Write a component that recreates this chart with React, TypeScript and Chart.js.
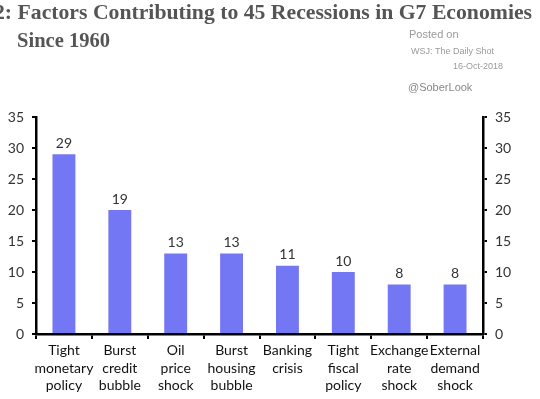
import React, { useEffect, useRef } from "react";
import { Chart, registerables } from "chart.js";

Chart.register(...registerables);

const categories: string[][] = [
  ["Tight", "monetary", "policy"],
  ["Burst", "credit", "bubble"],
  ["Oil", "price", "shock"],
  ["Burst", "housing", "bubble"],
  ["Banking", "crisis"],
  ["Tight", "fiscal", "policy"],
  ["Exchange", "rate", "shock"],
  ["External", "demand", "shock"],
];
const barValues: number[] = [29, 20, 13, 13, 11, 10, 8, 8];
const valueLabels: string[] = ["29", "19", "13", "13", "11", "10", "8", "8"];
const titleLine1 = "2: Factors Contributing to 45 Recessions in G7 Economies";
const titleLine2 = "Since 1960";
const yMin = 0;
const yMax = 35;
const yStep = 5;

const BAR_COLOR = "#7377F4";
const TEXT_COLOR = "#333333";
const SANS = "Lato, 'Open Sans', sans-serif";

const overlayPlugin = {
  id: "overlay",
  afterDraw(chart: any) {
    const ctx = chart.ctx;
    ctx.save();
    // value labels
    const meta = chart.getDatasetMeta(0);
    ctx.font = `14px ${SANS}`;
    ctx.fillStyle = TEXT_COLOR;
    ctx.textAlign = "center";
    ctx.textBaseline = "bottom";
    meta.data.forEach((bar: any, i: number) => {
      ctx.fillText(valueLabels[i], bar.x, bar.y - 4);
    });
    // title
    ctx.fillStyle = "#555555";
    ctx.font = "bold 21px 'Liberation Serif', 'DejaVu Serif', serif";
    ctx.textBaseline = "alphabetic";
    ctx.textAlign = "left";
    const w = ctx.measureText(titleLine1).width;
    const targetLeft = -6;
    const targetRight = 532;
    const sx = (targetRight - targetLeft) / w;
    ctx.save();
    ctx.translate(targetLeft, 19);
    ctx.scale(sx, 1);
    ctx.fillText(titleLine1, 0, 0);
    ctx.restore();
    const w2 = ctx.measureText(titleLine2).width;
    ctx.save();
    ctx.translate(17, 47);
    ctx.scale(93 / w2, 1);
    ctx.fillText(titleLine2, 0, 0);
    ctx.restore();
    // watermark
    ctx.textBaseline = "middle";
    ctx.fillStyle = "#9a9a9a";
    ctx.font = "11px 'Liberation Sans', Arial, sans-serif";
    ctx.fillText("Posted on", 409, 35);
    ctx.font = "9px 'Liberation Sans', Arial, sans-serif";
    ctx.fillText("WSJ: The Daily Shot", 411, 52);
    ctx.fillText("16-Oct-2018", 453, 67);
    ctx.fillStyle = "#888888";
    ctx.font = "11px 'Liberation Sans', Arial, sans-serif";
    ctx.fillText("@SoberLook", 408, 88);
    ctx.restore();
  },
};

export default function App() {
  const canvasRef = useRef<HTMLCanvasElement | null>(null);

  useEffect(() => {
    document.body.style.margin = "0";
    const canvas = canvasRef.current;
    if (!canvas) return;
    const chart = new Chart(canvas, {
      type: "bar",
      data: {
        labels: categories,
        datasets: [
          {
            data: barValues,
            backgroundColor: BAR_COLOR,
            borderWidth: 0,
            categoryPercentage: 1,
            barPercentage: 0.41,
            yAxisID: "y",
          },
        ],
      },
      options: {
        animation: false,
        responsive: false,
        maintainAspectRatio: false,
        layout: { padding: { top: 117, left: 0, right: 0, bottom: 0 } },
        plugins: {
          legend: { display: false },
          title: { display: false },
          tooltip: { enabled: false },
        },
        scales: {
          x: {
            offset: true,
            grid: {
              display: true,
              offset: true,
              drawOnChartArea: false,
              drawTicks: true,
              tickLength: 5,
              color: "#000",
              lineWidth: 2,
            },
            border: { display: true, color: "#000", width: 2.5 },
            ticks: {
              color: "#111",
              font: { family: SANS, size: 14, lineHeight: 1.25 },
              padding: 3,
              maxRotation: 0,
              autoSkip: false,
            },
            afterFit: (scale: any) => {
              scale.height = 65;
            },
          },
          y: {
            position: "left",
            min: yMin,
            max: yMax,
            grid: {
              display: true,
              drawOnChartArea: false,
              drawTicks: true,
              tickLength: 4,
              color: "#000",
              lineWidth: 2,
            },
            border: { display: true, color: "#000", width: 2.5 },
            ticks: {
              stepSize: yStep,
              color: TEXT_COLOR,
              font: { family: SANS, size: 14 },
              padding: 8,
            },
            afterFit: (scale: any) => {
              scale.width = 36;
            },
          },
          y2: {
            position: "right",
            min: yMin,
            max: yMax,
            grid: {
              display: true,
              drawOnChartArea: false,
              drawTicks: true,
              tickLength: 4,
              color: "#000",
              lineWidth: 2,
            },
            border: { display: true, color: "#000", width: 2.5 },
            ticks: {
              stepSize: yStep,
              color: TEXT_COLOR,
              font: { family: SANS, size: 14 },
              padding: 8,
            },
            afterFit: (scale: any) => {
              scale.width = 57;
            },
          },
        },
      },
      plugins: [overlayPlugin],
    });
    return () => chart.destroy();
  }, []);

  return (
    <div style={{ width: 540, height: 399, background: "#fff" }}>
      <canvas ref={canvasRef} width={540} height={399} style={{ display: "block" }} />
    </div>
  );
}
